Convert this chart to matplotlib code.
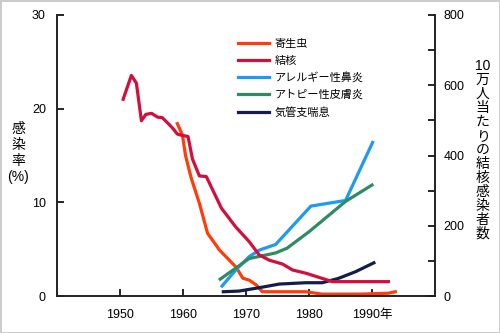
import numpy as np
import matplotlib
matplotlib.use('Agg')
import matplotlib.pyplot as plt
from matplotlib.lines import Line2D

plt.rcParams['font.family'] = ['Liberation Sans', 'Noto Sans CJK JP', 'DejaVu Sans']

# parasite infection rate (%), left axis
para_year = [1959.1, 1959.9, 1960.4, 1961.3, 1962.6, 1963.9, 1965.8, 1967.1, 1968.4,
             1969.5, 1970.5, 1971.6, 1972.6, 1979.5, 1982.1, 1987.9, 1992.6, 1993.7]
para_val = [18.4, 17.2, 15.0, 12.6, 9.9, 6.7, 4.9, 4.0, 3.1,
            1.9, 1.7, 1.2, 0.46, 0.46, 0.2, 0.2, 0.3, 0.46]

# tuberculosis per 100,000 people, right axis
tb_year = [1950.5, 1951.8, 1952.6, 1953.4, 1954.1, 1955.0, 1956.0, 1956.7, 1957.6,
           1958.4, 1959.1, 1959.7, 1960.8, 1961.5, 1962.6, 1963.7, 1966.1, 1968.4,
           1970.5, 1972.1, 1973.7, 1975.8, 1977.4, 1979.5, 1983.7, 1986.3, 1992.6]
tb_val = [560, 628, 606, 499, 517, 520, 509, 508, 492,
          477, 461, 458, 454, 390, 342, 340, 250, 196,
          155, 117, 102, 91, 74, 65, 41, 41, 41]

# allergic rhinitis (%)
rhin_year = [1966.2, 1968.4, 1970.5, 1972.1, 1974.7, 1980.3, 1985.8, 1990.1]
rhin_val = [1.07, 2.8, 4.2, 4.9, 5.5, 9.6, 10.2, 16.4]

# atopic dermatitis (%)
derm_year = [1965.9, 1970.5, 1974.7, 1976.5, 1980.0, 1985.8, 1990.0]
derm_val = [1.8, 4.0, 4.6, 5.1, 6.86, 10.1, 11.85]

# bronchial asthma (%)
asth_year = [1966.4, 1968.9, 1972.1, 1975.3, 1979.5, 1982.1, 1984.7, 1987.4, 1990.3]
asth_val = [0.46, 0.53, 0.89, 1.28, 1.42, 1.42, 1.89, 2.6, 3.55]

labels = ['寄生虫', '結核', 'アレルギー性鼻炎', 'アトピー性皮膚炎', '気管支喘息']
colors = ['#ff3c0a', '#d20f3c', '#1e9af0', '#2e8b62', '#141d4a']

fig = plt.figure(figsize=(5, 3.33), dpi=100)
fig.patch.set_edgecolor('#cccccc')
fig.patch.set_linewidth(2)
ax = fig.add_axes([0.114, 0.111, 0.756, 0.844])
ax2 = ax.twinx()

lw = 2.3
ax.plot(para_year, para_val, color=colors[0], lw=lw)
ax2.plot(tb_year, tb_val, color=colors[1], lw=lw)
ax.plot(rhin_year, rhin_val, color=colors[2], lw=lw)
ax.plot(derm_year, derm_val, color=colors[3], lw=lw)
ax.plot(asth_year, asth_val, color=colors[4], lw=lw)

ax.set_xlim(1940, 2000)
ax.set_ylim(0, 30)
ax2.set_ylim(0, 800)
ax.set_xticks([1950, 1960, 1970, 1980, 1990])
ax.set_xticklabels(['1950', '1960', '1970', '1980', '1990年'])
ax.set_yticks([0, 10, 20, 30])
ax2.set_yticks(np.arange(0, 801, 100))
ax2.set_yticklabels(['0', '', '200', '', '400', '', '600', '', '800'])

for a in (ax, ax2):
    a.spines['top'].set_visible(False)
    for s in a.spines.values():
        s.set_linewidth(1.2)
        s.set_color('#222222')
ax.tick_params(axis='x', direction='in', length=5, width=1.2, pad=9, labelsize=9)
ax.tick_params(axis='y', direction='in', length=5, width=1.2, pad=8, labelsize=9)
ax2.tick_params(axis='y', direction='in', length=5, width=1.2, pad=6, labelsize=9)

fig.text(0.036, 0.54, '感\n染\n率\n(%)', ha='center', va='center', fontsize=10,
         linespacing=1.2)
fig.text(0.965, 0.55, '10\n万\n人\n当\nた\nり\nの\n結\n核\n感\n染\n者\n数',
         ha='center', va='center', fontsize=10, linespacing=1.0)

handles = [Line2D([], [], color=c, lw=lw) for c in colors]
fig.legend(handles, labels, loc='upper left', bbox_to_anchor=(0.465, 0.9),
           frameon=False, fontsize=8, handlelength=2.8, handletextpad=0.5,
           labelspacing=0.6, borderpad=0)

fig.savefig('out.png', dpi=100)
